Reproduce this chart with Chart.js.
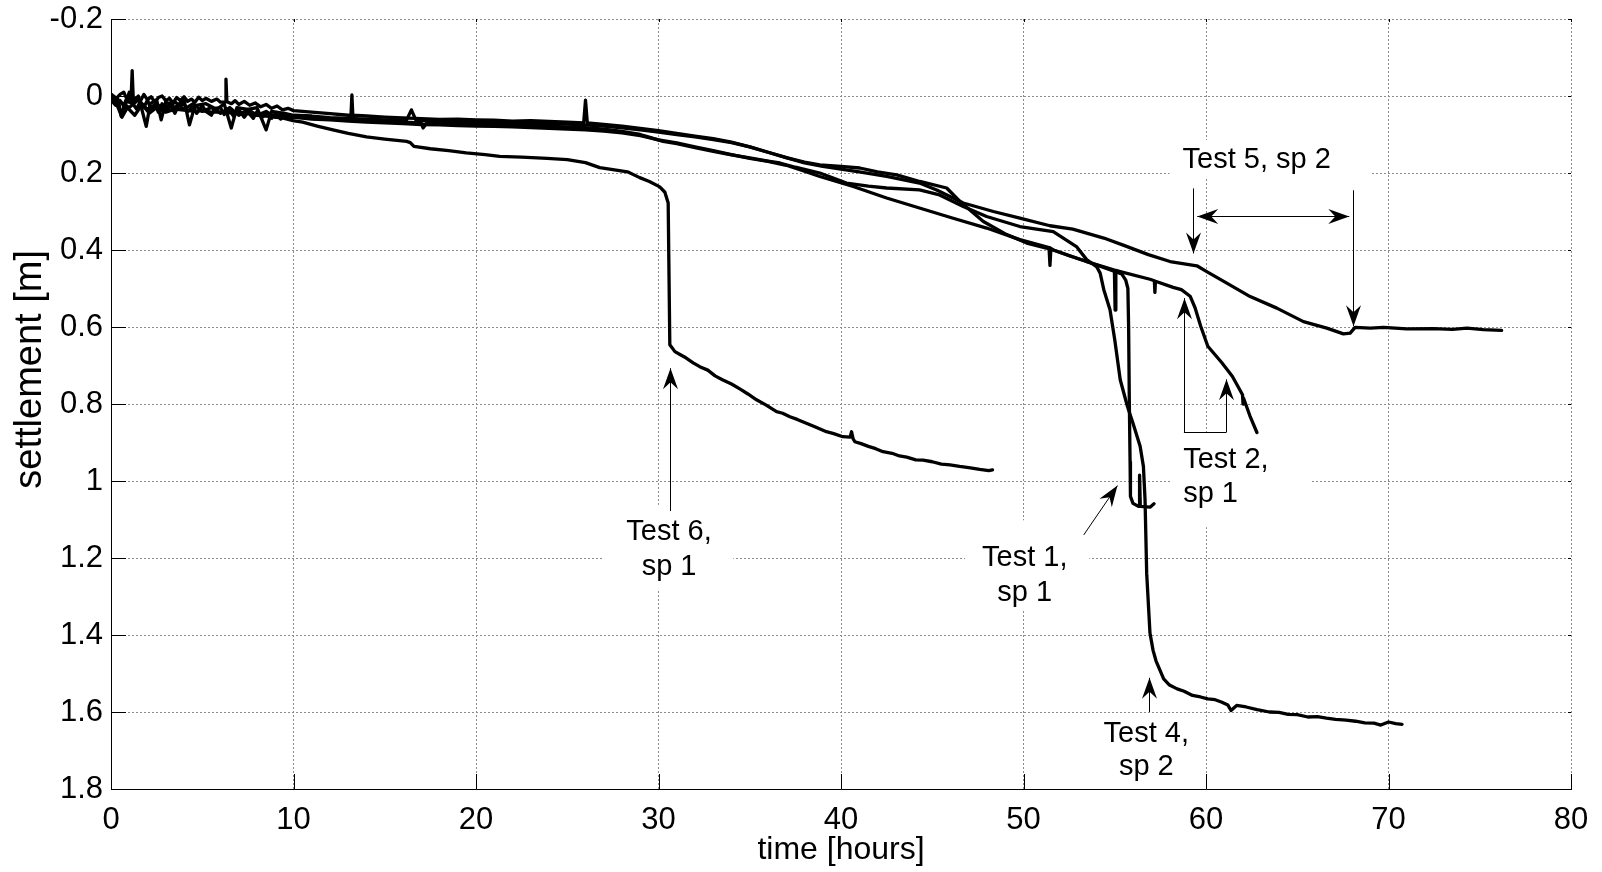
<!DOCTYPE html>
<html>
<head>
<meta charset="utf-8">
<title>Settlement vs time</title>
<script src="https://cdn.jsdelivr.net/npm/chart.js@4.4.0/dist/chart.umd.min.js"></script>
<style>
  html, body { margin: 0; padding: 0; background: #fff; }
  #wrap { width: 1602px; height: 872px; }
  canvas { display: block; }
</style>
</head>
<body>
<div id="wrap"><canvas id="chart" width="1602" height="872"></canvas></div>
<script>
// ---- tick labels ----
const xTickLabels = ['0', '10', '20', '30', '40', '50', '60', '70', '80'];
const yTickLabels = ['-0.2', '0', '0.2', '0.4', '0.6', '0.8', '1', '1.2', '1.4', '1.6', '1.8'];
const yAxisTitle = 'settlement [m]';

// ---- measured settlement [m] against time [hours], as [hours, settlement] ----
const test1 = [
  [0, -0.005], [0.4, 0.01], [0.56, 0.053], [0.8, 0.012], [1.2, 0.02], [1.5, 0.0], [1.93, 0.079], [2.15, 0.02],
  [2.5, 0.01], [2.75, 0.062], [3.0, 0.015], [3.5, 0.03], [4.0, 0.01], [4.3, 0.075], [4.6, 0.025], [5.2, 0.02],
  [5.8, 0.035], [6.2, 0.02], [6.59, 0.083], [6.9, 0.03], [7.5, 0.035], [8.0, 0.03], [8.5, 0.088], [8.8, 0.04],
  [9.5, 0.045], [10, 0.05], [11, 0.052], [12, 0.056], [13, 0.058], [14, 0.06], [15, 0.062], [16, 0.063],
  [16.2, 0.062], [16.46, 0.036], [16.7, 0.062], [17, 0.064], [18, 0.066], [19, 0.067], [20, 0.068], [21, 0.069],
  [22, 0.07], [23, 0.071], [24, 0.072], [25, 0.073], [26, 0.075], [27, 0.078], [28, 0.083], [29, 0.088],
  [30, 0.094], [31, 0.1], [32, 0.106], [33, 0.113], [34, 0.121], [35, 0.132], [36, 0.146], [37, 0.16],
  [38, 0.172], [38.84, 0.179], [40, 0.183], [41.03, 0.187], [42, 0.197], [43.05, 0.205], [44.32, 0.222],
  [45.79, 0.239], [46.52, 0.274], [47.8, 0.326], [49.08, 0.36], [50.18, 0.382], [51.63, 0.4], [52.5, 0.415],
  [53.46, 0.43], [54.5, 0.447], [55.38, 0.462], [55.6, 0.478], [55.72, 0.5], [55.76, 0.6], [55.8, 0.8],
  [55.84, 0.95], [55.86, 1.04], [56.0, 1.058], [56.3, 1.066], [56.33, 1.066], [56.36, 0.985], [56.4, 1.066],
  [56.93, 1.068], [57.15, 1.059]
];

const test2 = [
  [0, 0.01], [0.25, 0.024], [0.5, 0.012], [0.75, 0.03], [1.0, -0.01], [1.2, 0.02], [1.4, 0.034], [1.6, 0.015],
  [1.8, 0.03], [2.0, 0.01], [2.2, 0.036], [2.4, 0.022], [2.6, 0.042], [2.8, 0.02], [3.0, 0.032], [3.2, 0.018],
  [3.5, 0.045], [3.7, 0.025], [4.0, 0.02], [4.2, 0.04], [4.5, 0.028], [4.7, 0.045], [5.0, 0.025], [5.2, 0.04],
  [5.5, 0.05], [5.7, 0.032], [6.0, 0.03], [6.2, 0.048], [6.5, 0.036], [6.7, 0.052], [7.0, 0.035], [7.3, 0.055],
  [7.5, 0.042], [7.8, 0.058], [8.0, 0.04], [8.3, 0.055], [8.5, 0.046], [8.8, 0.058], [9.0, 0.045], [9.3, 0.06],
  [9.5, 0.05], [9.8, 0.058], [10, 0.055], [11, 0.06], [12, 0.062], [13, 0.065],
  [14, 0.068], [15, 0.07], [16, 0.072], [17, 0.074], [18, 0.075], [19, 0.077], [20, 0.078], [21, 0.079],
  [22, 0.08], [23, 0.082], [24, 0.084], [25, 0.086], [26, 0.088], [27, 0.091], [28, 0.096], [29, 0.103],
  [30, 0.114], [31, 0.122], [32, 0.132], [33, 0.142], [34, 0.152], [35, 0.162], [36, 0.17], [37, 0.18],
  [38, 0.195], [38.84, 0.209], [40.67, 0.235], [42.5, 0.265], [44.3, 0.291], [46.1, 0.317], [47.98, 0.343],
  [49.8, 0.373], [51.4, 0.394], [51.45, 0.44], [51.5, 0.396], [51.63, 0.4], [53.46, 0.43], [54.98, 0.452],
  [55.02, 0.556], [55.06, 0.453], [55.3, 0.456], [56.93, 0.476], [57.17, 0.48], [57.2, 0.51], [57.23, 0.481],
  [58.2, 0.497], [58.65, 0.503], [59.13, 0.52], [59.4, 0.55], [59.71, 0.598], [60.1, 0.65], [60.87, 0.693],
  [61.44, 0.728], [61.7, 0.75], [62.0, 0.776], [62.03, 0.8], [62.06, 0.785], [62.4, 0.83], [62.79, 0.874]
];

const test4 = [
  [0, 0.005], [0.5, 0.015], [1, 0.03], [1.5, 0.01], [2, 0.035], [2.5, 0.02], [3, 0.04], [3.5, 0.015],
  [4, 0.035], [4.5, 0.02], [5, 0.04], [5.5, 0.03], [6, 0.045], [6.5, 0.03], [7, 0.05], [7.5, 0.035],
  [8, 0.05], [8.5, 0.04], [9, 0.055], [9.5, 0.045], [10, 0.055], [11, 0.058], [12, 0.06], [13, 0.063],
  [14, 0.065], [15, 0.066], [16, 0.068], [17, 0.07], [17.1, 0.083], [17.3, 0.07], [18, 0.071], [19, 0.072],
  [20, 0.074], [21, 0.075], [22, 0.076], [23, 0.077], [24, 0.079], [25, 0.08], [26, 0.082], [27, 0.086],
  [28, 0.092], [29, 0.1], [29.34, 0.105], [30.25, 0.118], [31, 0.124], [32, 0.134], [33, 0.144], [34, 0.153],
  [35, 0.161], [36, 0.169], [36.65, 0.174], [37.5, 0.185], [38.84, 0.2], [40.3, 0.226], [41.5, 0.234],
  [42.5, 0.239], [44.3, 0.244], [45.4, 0.257], [46.7, 0.287], [47.98, 0.313], [49.8, 0.339], [51.63, 0.352],
  [52.9, 0.391], [53.46, 0.425], [54.0, 0.443], [54.2, 0.46], [54.4, 0.503], [54.74, 0.555], [55.0, 0.633],
  [55.3, 0.737], [55.7, 0.807], [56.0, 0.85], [56.39, 0.91], [56.57, 0.962], [56.66, 1.049], [56.75, 1.24],
  [56.93, 1.395], [57.1, 1.44], [57.26, 1.467], [57.68, 1.514], [58.0, 1.53], [58.42, 1.54], [58.8, 1.546],
  [59.26, 1.557], [59.7, 1.561], [60.1, 1.566], [60.5, 1.568], [60.84, 1.574], [61.2, 1.582], [61.37, 1.596],
  [61.68, 1.583], [62.2, 1.587], [62.8, 1.594], [63.47, 1.6], [64.0, 1.601], [64.5, 1.606], [65.0, 1.607],
  [65.58, 1.613], [66.1, 1.612], [66.6, 1.616], [67.1, 1.619], [67.68, 1.621], [68.2, 1.624], [68.7, 1.628],
  [69.2, 1.629], [69.58, 1.634], [70.0, 1.626], [70.4, 1.63], [70.74, 1.632]
];

const test5 = [
  [0, 0], [0.25, 0.008], [0.5, -0.004], [0.7, -0.01], [0.85, 0.006], [1.0, 0.008], [1.1, 0.01], [1.16, -0.066],
  [1.22, 0.008], [1.4, 0.004], [1.6, 0.014], [1.8, -0.004], [2.0, 0.01], [2.2, 0.002], [2.4, 0.016], [2.6, 0.004],
  [2.8, 0.0], [3.0, 0.012], [3.2, 0.006], [3.4, 0.018], [3.6, 0.004], [3.8, 0.012], [4.0, 0.002], [4.2, 0.014],
  [4.4, 0.008], [4.6, 0.016], [4.8, 0.003], [5.0, 0.012], [5.2, 0.006], [5.5, 0.014], [5.8, 0.008], [6.0, 0.016],
  [6.25, 0.015], [6.3, -0.044], [6.35, 0.015], [6.6, 0.02], [6.8, 0.012], [7.0, 0.022], [7.3, 0.014], [7.6, 0.024],
  [7.9, 0.018], [8.2, 0.028], [8.5, 0.022], [8.8, 0.032], [9.1, 0.026], [9.4, 0.036], [9.7, 0.032], [10, 0.038],
  [11, 0.042], [12, 0.046], [13, 0.05],
  [13.15, 0.05], [13.2, -0.003], [13.25, 0.05], [14, 0.052], [15, 0.055], [16, 0.057], [17, 0.059], [18, 0.061],
  [19, 0.06], [20, 0.062], [21, 0.063], [22, 0.065], [23, 0.064], [24, 0.066], [25, 0.068], [25.9, 0.07],
  [26.0, 0.011], [26.1, 0.07], [27, 0.074], [28, 0.078], [29, 0.084], [30, 0.09], [31, 0.097], [32, 0.104],
  [33, 0.111], [34, 0.12], [35, 0.132], [36, 0.146], [37, 0.16], [38, 0.174], [39, 0.183], [40, 0.19],
  [41, 0.197], [42.5, 0.209], [44.3, 0.226], [45.24, 0.244], [46.7, 0.278], [48.35, 0.3], [49.8, 0.317],
  [51.45, 0.337], [52.7, 0.346], [54.4, 0.369], [55.5, 0.388], [56.84, 0.412], [58.03, 0.43], [59.5, 0.441],
  [60.04, 0.456], [61.14, 0.486], [62.42, 0.521], [63.88, 0.551], [65.34, 0.586], [66.62, 0.603], [67.53, 0.618],
  [67.9, 0.616], [68.17, 0.601], [69.0, 0.603], [69.73, 0.601], [71.0, 0.605], [72.47, 0.604], [73.5, 0.606],
  [74.3, 0.603], [75.2, 0.607], [76.2, 0.609]
];

const test6 = [
  [0, 0], [0.3, 0.02], [0.6, 0.055], [0.9, 0.03], [1.3, 0.05], [1.7, 0.022], [2.1, 0.045], [2.5, 0.03],
  [3.0, 0.042], [3.5, 0.034], [4.12, 0.037], [4.6, 0.04], [5.0, 0.038], [5.5, 0.042], [6.0, 0.041], [6.5, 0.044],
  [7.0, 0.046], [7.5, 0.045], [8.0, 0.05], [8.5, 0.052], [9.0, 0.055], [9.5, 0.058], [9.97, 0.064], [10.5, 0.068],
  [11.3, 0.078], [12.16, 0.088], [13.0, 0.097], [14.0, 0.106], [15.0, 0.112], [16.2, 0.118], [16.4, 0.121],
  [16.6, 0.131], [17.5, 0.137], [18.5, 0.142], [19.47, 0.148], [20.5, 0.152], [21.3, 0.157], [22.5, 0.159],
  [23.9, 0.162], [25.0, 0.165], [25.5, 0.169], [26.0, 0.173], [26.78, 0.186], [27.5, 0.191], [28.3, 0.197],
  [28.97, 0.212], [29.5, 0.222], [30.07, 0.236], [30.35, 0.25], [30.53, 0.278], [30.62, 0.646], [30.9, 0.664],
  [31.2, 0.672], [31.5, 0.68], [31.9, 0.693], [32.26, 0.703], [32.7, 0.712], [33.1, 0.727], [33.5, 0.737],
  [34.0, 0.748], [34.5, 0.762], [34.9, 0.774], [35.37, 0.789], [35.9, 0.803], [36.47, 0.82], [36.8, 0.824],
  [37.2, 0.833], [37.6, 0.84], [38.1, 0.85], [38.6, 0.86], [39.2, 0.872], [39.6, 0.877], [40.1, 0.885],
  [40.5, 0.886], [40.58, 0.872], [40.66, 0.89], [40.76, 0.898], [41.1, 0.903], [41.5, 0.91], [41.9, 0.916],
  [42.3, 0.924], [42.8, 0.928], [43.2, 0.935], [43.6, 0.938], [44.1, 0.945], [44.5, 0.946], [45.0, 0.95],
  [45.5, 0.956], [45.97, 0.958], [46.5, 0.962], [47.0, 0.965], [47.6, 0.97], [48.1, 0.973], [48.3, 0.971]
];

const series = [
  { name: 'Test 1, sp 1', points: test1 },
  { name: 'Test 2, sp 1', points: test2 },
  { name: 'Test 4, sp 2', points: test4 },
  { name: 'Test 5, sp 2', points: test5 },
  { name: 'Test 6, sp 1', points: test6 }
];

// ---- callouts (data coordinates) ----
const calloutBoxes = [
  { x0: 58.0, x1: 69.0, y0: 0.114, y1: 0.212 },   // Test 5
  { x0: 26.95, x1: 34.1, y0: 1.062, y1: 1.283 },  // Test 6
  { x0: 46.8, x1: 53.6, y0: 1.102, y1: 1.335 },   // Test 1
  { x0: 58.1, x1: 65.8, y0: 0.875, y1: 1.12 },    // Test 2
  { x0: 53.3, x1: 59.6, y0: 1.612, y1: 1.795 }    // Test 4
];

const calloutTexts = [
  { lines: ['Test 5, sp 2'], x: 62.78, y: [0.166], align: 'center' },
  { lines: ['Test 6,', 'sp 1'], x: 30.58, y: [1.132, 1.223], align: 'center' },
  { lines: ['Test 1,', 'sp 1'], x: 50.07, y: [1.2, 1.29], align: 'center' },
  { lines: ['Test 2,', 'sp 1'], x: 58.75, y: [0.945, 1.035], align: 'left' },
  { lines: ['Test 4,', 'sp 2'], x: 56.73, y: [1.656, 1.744], align: 'center' }
];

const calloutArrows = [
  { from: [30.62, 1.078], to: [30.62, 0.707], head: 'end' },
  { from: [59.27, 0.24], to: [59.27, 0.409], head: 'end' },
  { from: [68.08, 0.245], to: [68.08, 0.598], head: 'end' },
  { from: [59.52, 0.312], to: [67.85, 0.312], head: 'both' },
  { from: [58.79, 0.874], to: [58.79, 0.525], head: 'end' },
  { from: [61.1, 0.874], to: [61.1, 0.736], head: 'end' },
  { from: [58.79, 0.874], to: [61.1, 0.874], head: 'none' },
  { from: [53.3, 1.14], to: [55.15, 1.012], head: 'end' },
  { from: [56.9, 1.6], to: [56.9, 1.511], head: 'end' }
];

const FONT = "'Liberation Sans', Arial, Helvetica, sans-serif";

function drawHead(ctx, tx, ty, fx, fy) {
  const ang = Math.atan2(ty - fy, tx - fx);
  const L = 21, W = 7.5, N = 14;
  ctx.save();
  ctx.translate(tx, ty);
  ctx.rotate(ang);
  ctx.beginPath();
  ctx.moveTo(0, 0);
  ctx.lineTo(-L, -W);
  ctx.lineTo(-N, 0);
  ctx.lineTo(-L, W);
  ctx.closePath();
  ctx.fill();
  ctx.restore();
}

const calloutPlugin = {
  id: 'callouts',
  beforeDatasetsDraw(chart) {
    const { ctx, scales: { x, y } } = chart;
    ctx.save();
    ctx.fillStyle = '#ffffff';
    for (const b of calloutBoxes) {
      const px0 = x.getPixelForValue(b.x0), px1 = x.getPixelForValue(b.x1);
      const py0 = y.getPixelForValue(b.y0), py1 = y.getPixelForValue(b.y1);
      ctx.fillRect(Math.min(px0, px1), Math.min(py0, py1), Math.abs(px1 - px0), Math.abs(py1 - py0));
    }
    ctx.restore();
  },
  afterDatasetsDraw(chart) {
    const { ctx, chartArea: a, scales: { x, y } } = chart;
    ctx.save();

    // inward tick marks on all four sides
    ctx.strokeStyle = '#000';
    ctx.lineWidth = 1;
    ctx.beginPath();
    for (const t of x.ticks) {
      const px = Math.round(x.getPixelForValue(t.value)) + 0.5;
      ctx.moveTo(px, a.bottom); ctx.lineTo(px, a.bottom - 15);
      ctx.moveTo(px, a.top); ctx.lineTo(px, a.top + 3);
    }
    for (const t of y.ticks) {
      const py = Math.round(y.getPixelForValue(t.value)) + 0.5;
      ctx.moveTo(a.left, py); ctx.lineTo(a.left + 15, py);
      ctx.moveTo(a.right, py); ctx.lineTo(a.right - 3, py);
    }
    ctx.stroke();

    // callout text
    ctx.fillStyle = '#000';
    ctx.font = '29px ' + FONT;
    ctx.textBaseline = 'middle';
    for (const t of calloutTexts) {
      ctx.textAlign = t.align;
      t.lines.forEach((s, i) => ctx.fillText(s, x.getPixelForValue(t.x), y.getPixelForValue(t.y[i])));
    }

    // callout arrows
    ctx.strokeStyle = '#000';
    ctx.fillStyle = '#000';
    ctx.lineWidth = 1;
    for (const ar of calloutArrows) {
      const fx = x.getPixelForValue(ar.from[0]), fy = y.getPixelForValue(ar.from[1]);
      const tx = x.getPixelForValue(ar.to[0]), ty = y.getPixelForValue(ar.to[1]);
      const sx = Math.abs(fx - tx) < 0.01 ? Math.round(fx) + 0.5 : fx;
      const sy = Math.abs(fy - ty) < 0.01 ? Math.round(fy) + 0.5 : fy;
      const ex = Math.abs(fx - tx) < 0.01 ? sx : tx;
      const ey = Math.abs(fy - ty) < 0.01 ? sy : ty;
      ctx.beginPath();
      ctx.moveTo(sx, sy);
      ctx.lineTo(ex, ey);
      ctx.stroke();
      if (ar.head === 'end' || ar.head === 'both') drawHead(ctx, ex, ey, sx, sy);
      if (ar.head === 'both') drawHead(ctx, sx, sy, ex, ey);
    }

    // y-axis title, set a little above the middle of the axis
    ctx.save();
    ctx.translate(31, y.getPixelForValue(0.71));
    ctx.rotate(-Math.PI / 2);
    ctx.font = '38px ' + FONT;
    ctx.textAlign = 'center';
    ctx.textBaseline = 'middle';
    ctx.fillStyle = '#000';
    ctx.fillText(yAxisTitle, 0, 0);
    ctx.restore();

    ctx.restore();
  }
};

const gridStyle = { color: '#8c8c8c', lineWidth: 1, drawTicks: false };

// keep the plot frame fixed: labels at the ends may overhang it
function clearOverhang(s) {
  s.paddingTop = 0; s.paddingBottom = 0; s.paddingLeft = 0; s.paddingRight = 0;
}

new Chart(document.getElementById('chart'), {
  type: 'line',
  data: {
    datasets: series.map(s => ({
      label: s.name,
      data: s.points.map(([h, v]) => ({ x: h, y: v })),
      borderColor: '#000',
      backgroundColor: '#000',
      borderWidth: 3.3,
      pointRadius: 0,
      tension: 0,
      fill: false,
      borderJoinStyle: 'round',
      borderCapStyle: 'round'
    }))
  },
  options: {
    responsive: false,
    animation: false,
    devicePixelRatio: 1,
    layout: { padding: { left: 0, right: 31, top: 19, bottom: 0 } },
    plugins: { legend: { display: false }, tooltip: { enabled: false } },
    scales: {
      x: {
        type: 'linear',
        min: 0,
        max: 80,
        afterFit: s => { s.height = 83; clearOverhang(s); },
        ticks: {
          stepSize: 10,
          autoSkip: false,
          maxRotation: 0,
          padding: 13,
          color: '#000',
          font: { family: FONT, size: 31 },
          callback: v => xTickLabels[Math.round(v / 10)] ?? ''
        },
        grid: gridStyle,
        border: { display: true, color: '#000', width: 1, dash: [2, 2] },
        title: {
          display: true,
          text: 'time [hours]',
          color: '#000',
          font: { family: FONT, size: 32 },
          padding: { top: 0, bottom: 3 }
        }
      },
      y: {
        type: 'linear',
        reverse: true,
        min: -0.2,
        max: 1.8,
        afterFit: s => { s.width = 111; clearOverhang(s); },
        ticks: {
          stepSize: 0.2,
          autoSkip: false,
          padding: 8,
          color: '#000',
          font: { family: FONT, size: 31 },
          callback: v => yTickLabels[Math.round((v + 0.2) / 0.2)] ?? ''
        },
        grid: gridStyle,
        border: { display: true, color: '#000', width: 1, dash: [2, 2] },
        title: { display: false }
      }
    }
  },
  plugins: [calloutPlugin]
});
</script>
</body>
</html>
